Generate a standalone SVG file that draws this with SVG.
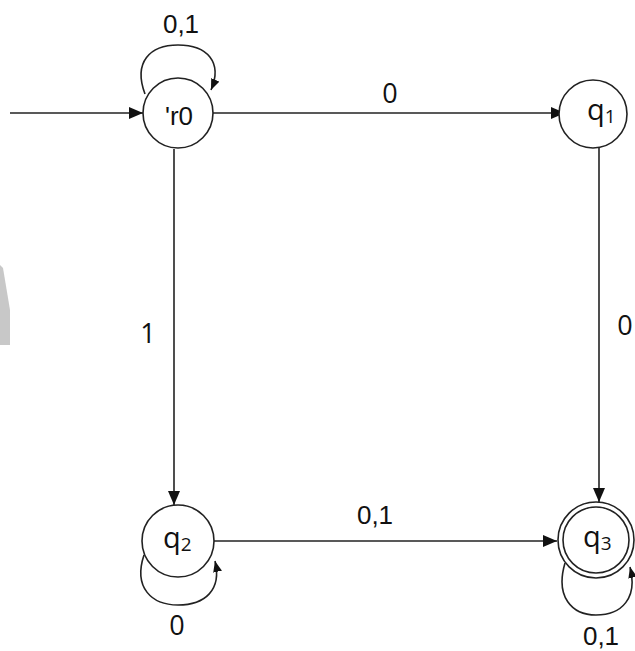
<svg xmlns="http://www.w3.org/2000/svg" width="635" height="651" viewBox="0 0 635 651">
<defs>
<marker id="ah" viewBox="0 0 14 12" refX="14" refY="6" markerWidth="14" markerHeight="12" markerUnits="userSpaceOnUse" orient="auto">
<path d="M0,0 L14,6 L0,12 z" fill="#111"/>
</marker>
<marker id="ahs" viewBox="0 0 11 9" refX="11" refY="4.5" markerWidth="11" markerHeight="9" markerUnits="userSpaceOnUse" orient="auto">
<path d="M0,0 L11,4.5 L0,9 z" fill="#111"/>
</marker>
</defs>
<style>
.st{fill:#fff;stroke:#222;stroke-width:1.6}
.ed{fill:none;stroke:#222;stroke-width:1.6}
.lb{font-family:"Open Sans","Noto Sans",sans-serif;font-size:27px;fill:#111}
.lba{font-family:"Liberation Sans",Arial,sans-serif;font-size:26px;fill:#111}
.nm{font-family:"Open Sans","Noto Sans",sans-serif;font-size:29px;fill:#111}
.sub{font-size:19px}
</style>
<rect width="635" height="651" fill="#fff"/>
<polygon points="0,265 3,268 10,310 10,345 0,345" fill="#c8c8c8"/>
<g id="connectors">
<line class="ed" x1="10" y1="113" x2="143" y2="113" marker-end="url(#ah)"/>
<path class="ed" d="M145,94 C133,62 150,45 178,45 C207,45 223,62 211,90" marker-end="url(#ahs)"/>
<line class="ed" x1="213" y1="113" x2="565" y2="113" marker-end="url(#ah)"/>
<line class="ed" x1="174" y1="149" x2="174" y2="505" marker-end="url(#ah)"/>
<line class="ed" x1="599" y1="148" x2="599" y2="502" marker-end="url(#ah)"/>
<path class="ed" d="M144,555 C133,588 152,605 178,605 C205,605 222,590 215,561" marker-end="url(#ahs)"/>
<line class="ed" x1="214" y1="541" x2="557" y2="541" marker-end="url(#ah)"/>
<path class="ed" d="M565,563 C555,597 572,615 596,615 C622,615 638,598 630,567" marker-end="url(#ahs)"/>
<text class="lba" x="181" y="33" text-anchor="middle">0,1</text>
<text class="lb" x="390" y="103" text-anchor="middle">0</text>
<text class="lb" x="148" y="343" text-anchor="middle">1</text>
<text class="lb" x="625" y="335" text-anchor="middle">0</text>
<text class="lba" x="375" y="524" text-anchor="middle">0,1</text>
<text class="lb" x="177" y="635" text-anchor="middle">0</text>
<text class="lba" x="601" y="645" text-anchor="middle" font-size="27">0,1</text>
</g>
<g id="q0">
<circle class="st" cx="178" cy="113" r="35"/>
<text class="lba" x="165" y="125" font-size="36" textLength="28" lengthAdjust="spacingAndGlyphs">'r0</text>
</g>
<g id="q1">
<circle class="st" cx="593" cy="114" r="34"/>
<text class="nm" x="587" y="120">q<tspan class="sub" dy="3">1</tspan></text>
</g>
<g id="q2">
<circle class="st" cx="178" cy="541" r="36"/>
<text class="nm" x="163" y="548">q<tspan class="sub" dy="3">2</tspan></text>
</g>
<g id="q3">
<circle class="st" cx="596" cy="540" r="38"/>
<circle class="st" cx="596" cy="540" r="33" fill="none"/>
<text class="nm" x="583" y="547">q<tspan class="sub" dy="3">3</tspan></text>
</g>
</svg>
